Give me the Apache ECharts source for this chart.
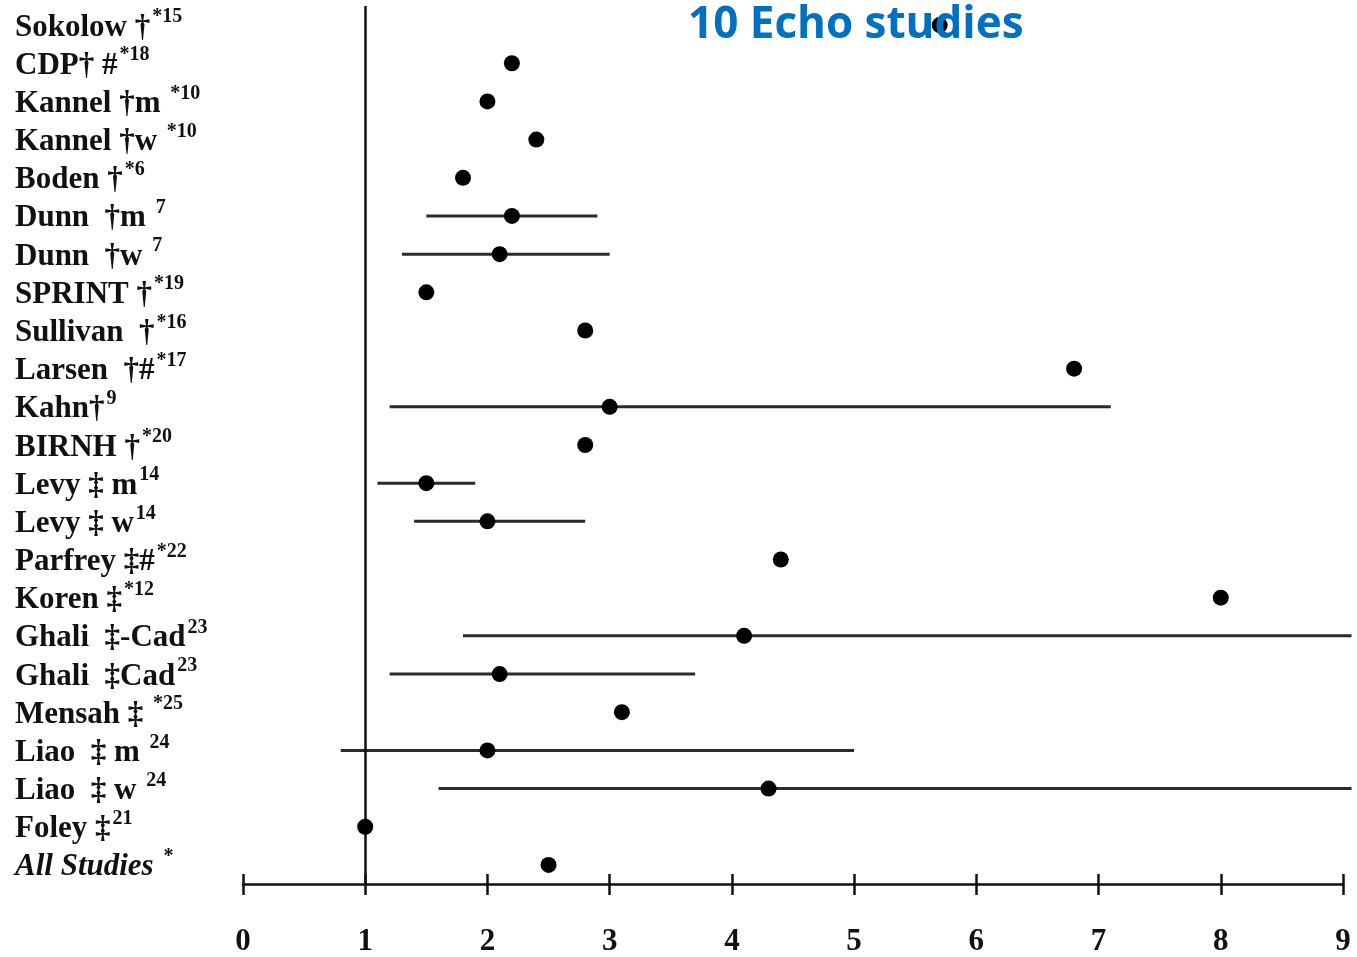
<!DOCTYPE html>
<html>
<head>
<meta charset="utf-8">
<title>10 Echo studies</title>
<script src="https://cdn.jsdelivr.net/npm/echarts@6/dist/echarts.min.js"></script>
<style>
  html, body { margin: 0; padding: 0; background: #ffffff; }
  #chart { width: 1357px; height: 957px; }
</style>
</head>
<body>
<div id="chart"></div>
<script>
// Study names and their reference marks (drawn as superscripts)
var studies = ['Sokolow †', 'CDP† #', 'Kannel †m ', 'Kannel †w ', 'Boden †', 'Dunn  †m ', 'Dunn  †w ',
  'SPRINT †', 'Sullivan  †', 'Larsen  †#', 'Kahn†', 'BIRNH †', 'Levy ‡ m', 'Levy ‡ w', 'Parfrey ‡#',
  'Koren ‡', 'Ghali  ‡-Cad', 'Ghali  ‡Cad', 'Mensah ‡ ', 'Liao  ‡ m ', 'Liao  ‡ w ', 'Foley ‡', 'All Studies '];
var refs = ['*15', '*18', '*10', '*10', '*6', '7', '7', '*19', '*16', '*17', '9', '*20', '14', '14', '*22',
  '*12', '23', '23', '*25', '24', '24', '21', '*'];

// Point estimates and confidence limits (null = no interval reported)
var estimates = [5.7, 2.2, 2.0, 2.4, 1.8, 2.2, 2.1, 1.5, 2.8, 6.8, 3.0, 2.8, 1.5, 2.0, 4.4, 8.0, 4.1, 2.1, 3.1, 2.0, 4.3, 1.0, 2.5];
var ciLow  = [null, null, null, null, null, 1.5, 1.3, null, null, null, 1.2, null, 1.1, 1.4, null, null, 1.8, 1.2, null, 0.8, 1.6, null, null];
var ciHigh = [null, null, null, null, null, 2.9, 3.0, null, null, null, 7.1, null, 1.9, 2.8, null, null, 9.07, 3.7, null, 5.0, 9.07, null, null];

// Axis ticks
var xTicks = [0, 1, 2, 3, 4, 5, 6, 7, 8, 9];

var categories = studies.map(function (s, i) { return s + refs[i]; });
var pointData = estimates.map(function (v, i) { return [v, i]; });
var ciData = [];
ciLow.forEach(function (lo, i) {
  if (lo !== null && ciHigh[i] !== null) ciData.push([lo, ciHigh[i], i]);
});

var serif = '"Liberation Serif", "DejaVu Serif", serif';
var ink = '#111111';

var chart = echarts.init(document.getElementById('chart'), null, { renderer: 'canvas' });

var xBase = {
  type: 'value',
  min: xTicks[0],
  max: xTicks[xTicks.length - 1],
  interval: 1,
  position: 'bottom',
  splitLine: { show: false }
};

chart.setOption({
  animation: false,
  backgroundColor: '#ffffff',
  title: {
    text: '10 Echo studies',
    left: 683,
    top: -2,
    textStyle: {
      color: '#0070C0',
      fontFamily: '"Open Sans", Lato, sans-serif',
      fontWeight: 'bold',
      fontSize: 44
    }
  },
  grid: { left: 243, right: 14, top: 6, bottom: 73, containLabel: false },
  xAxis: [
    Object.assign({}, xBase, {
      axisLine: { show: true, lineStyle: { color: ink, width: 2.5 } },
      axisTick: { show: true, inside: false, length: 11, lineStyle: { color: ink, width: 2.5 } },
      axisLabel: {
        margin: 42,
        color: ink,
        fontFamily: serif,
        fontWeight: 'bold',
        fontSize: 31,
        formatter: function (v) { return String(v); }
      }
    }),
    Object.assign({}, xBase, {
      axisLine: { show: false },
      axisTick: { show: true, inside: true, length: 10, lineStyle: { color: ink, width: 2.5 } },
      axisLabel: { show: false }
    })
  ],
  yAxis: {
    type: 'category',
    data: categories,
    inverse: true,
    boundaryGap: true,
    axisLine: { show: false },
    axisTick: { show: false },
    splitLine: { show: false },
    axisLabel: {
      align: 'left',
      margin: 228,
      formatter: function (value, index) {
        var italic = index === studies.length - 1;
        return (italic ? '{mi|' : '{m|') + studies[index] + '}{s|' + refs[index] + '}';
      },
      rich: {
        m: { fontFamily: serif, fontWeight: 'bold', fontSize: 31, color: ink, lineHeight: 36, verticalAlign: 'bottom' },
        mi: { fontFamily: serif, fontWeight: 'bold', fontStyle: 'italic', fontSize: 31, color: ink, lineHeight: 36, verticalAlign: 'bottom' },
        s: { fontFamily: serif, fontWeight: 'bold', fontSize: 20, color: ink, lineHeight: 36, verticalAlign: 'top', padding: [0, 0, 0, 2] }
      }
    }
  },
  series: [
    {
      type: 'custom',
      name: 'CI',
      xAxisIndex: 0,
      clip: false,
      encode: { x: [0, 1], y: 2 },
      data: ciData,
      renderItem: function (params, api) {
        var a = api.coord([api.value(0), api.value(2)]);
        var b = api.coord([api.value(1), api.value(2)]);
        return {
          type: 'line',
          shape: { x1: a[0], y1: a[1], x2: b[0], y2: b[1] },
          style: { stroke: '#2b2b2b', lineWidth: 3 }
        };
      },
      z: 2
    },
    {
      type: 'scatter',
      name: 'Estimate',
      xAxisIndex: 0,
      data: pointData,
      symbol: 'circle',
      symbolSize: 16,
      itemStyle: { color: '#000000', opacity: 1 },
      z: 4,
      markLine: {
        silent: true,
        symbol: ['none', 'none'],
        label: { show: false },
        lineStyle: { color: ink, width: 2.5, type: 'solid' },
        data: [{ xAxis: 1 }],
        z: 3
      }
    }
  ]
});
</script>
</body>
</html>
